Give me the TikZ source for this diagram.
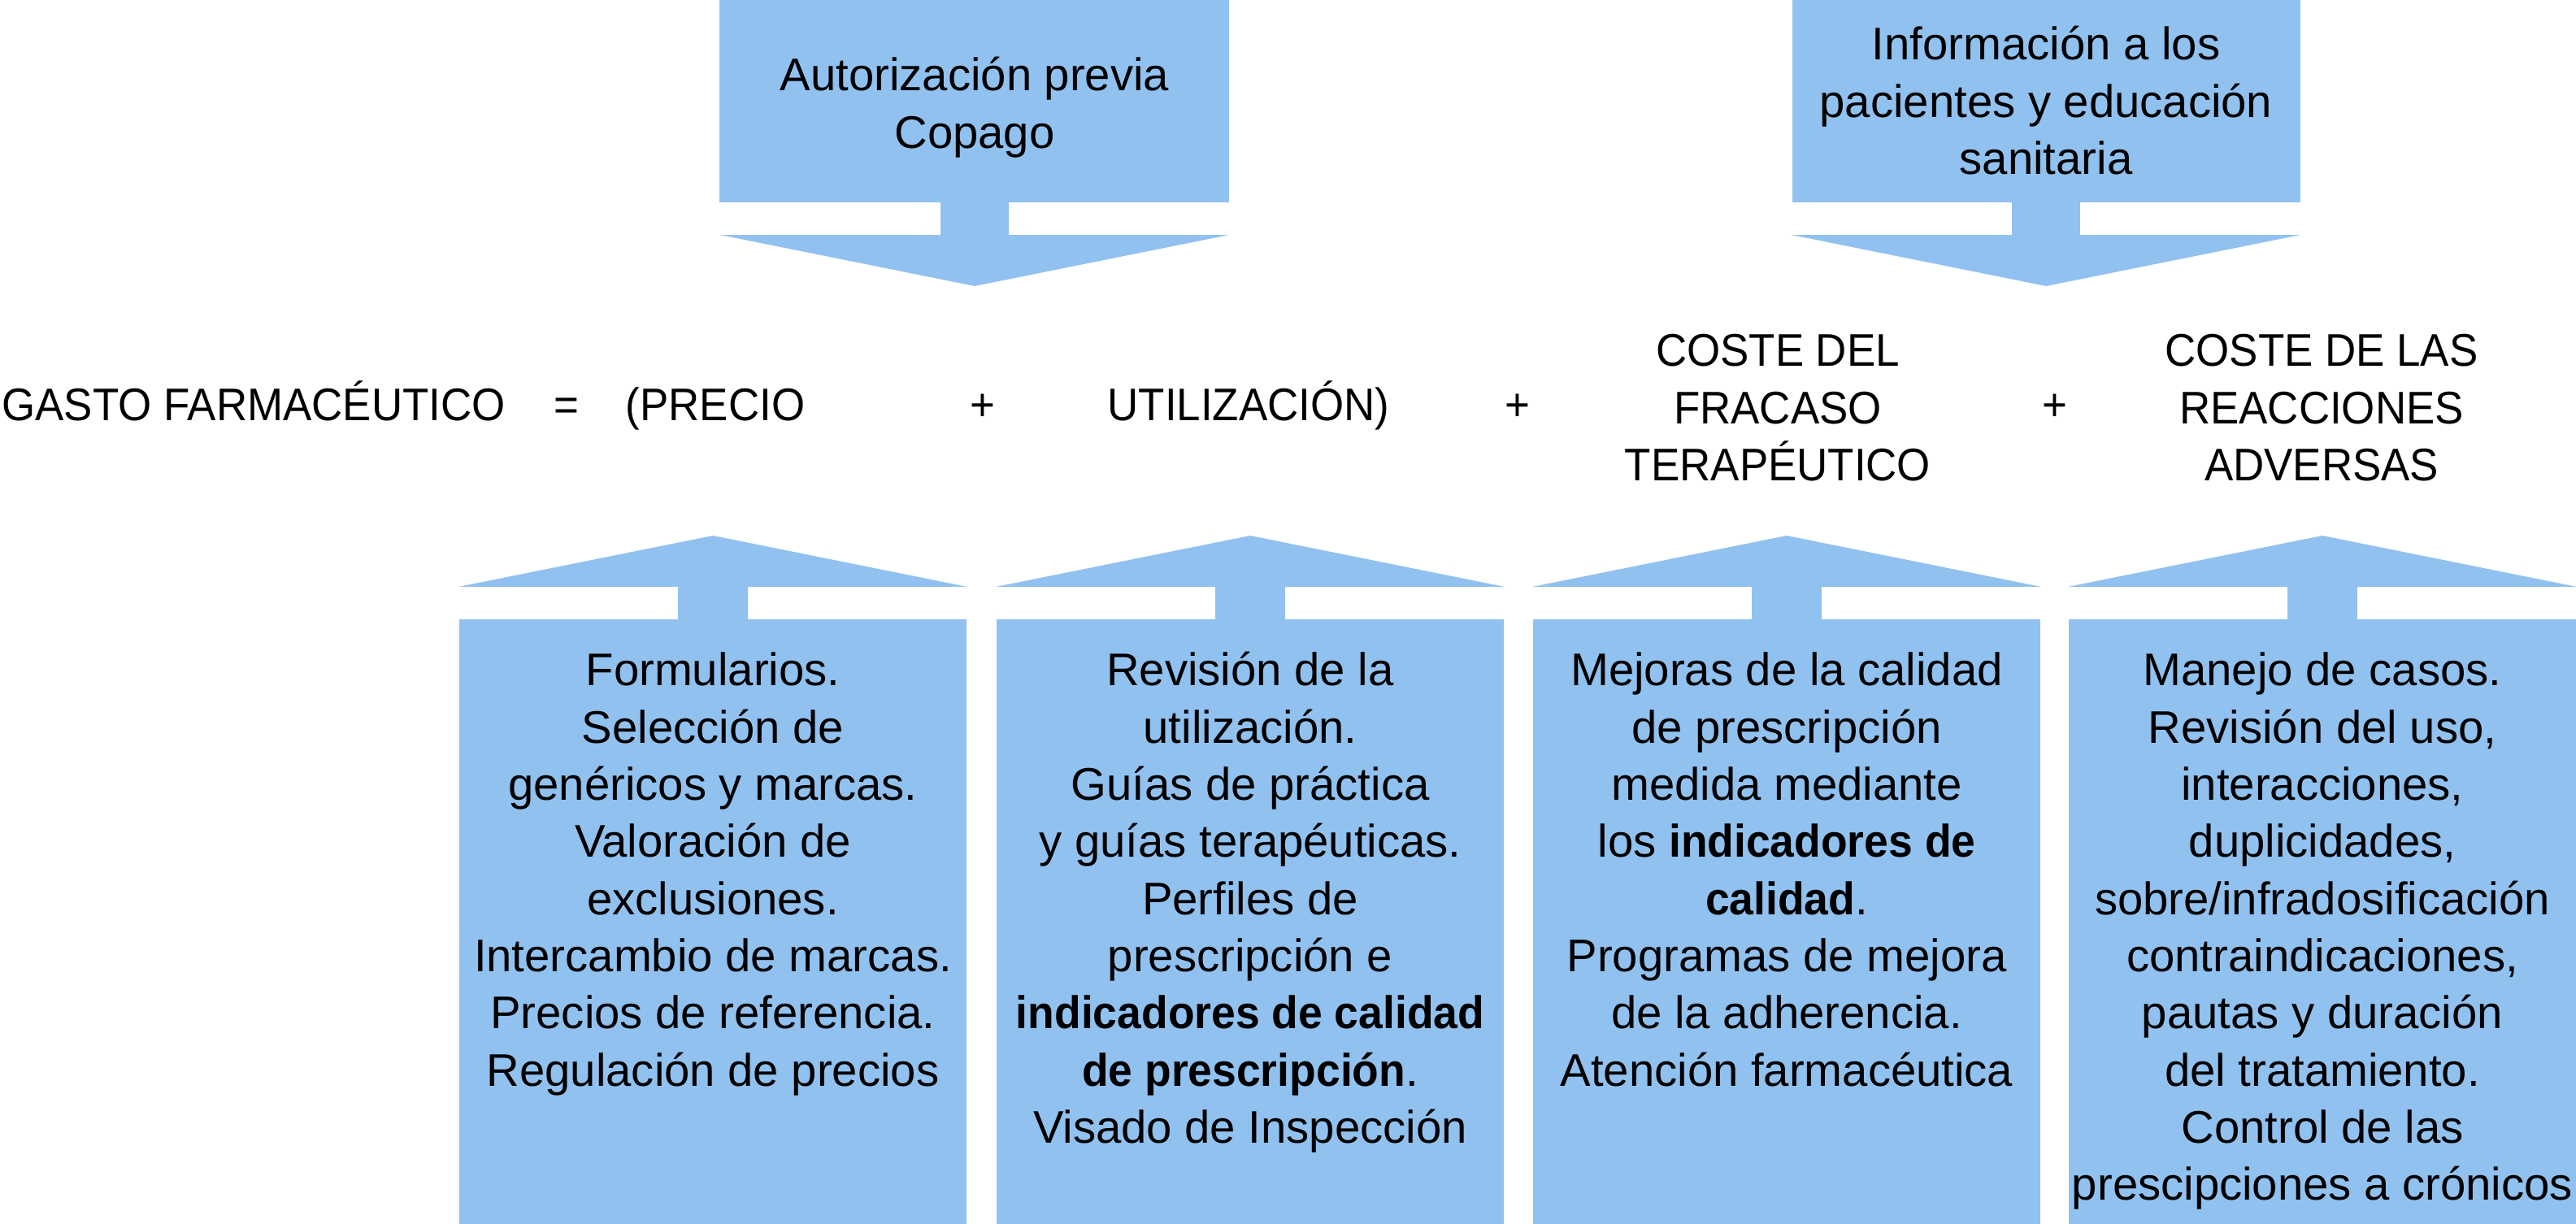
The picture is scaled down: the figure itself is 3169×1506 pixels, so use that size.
\documentclass[tikz,border=0pt]{standalone}
\usepackage{fontspec}
\setmainfont{Liberation Sans}[BoldFeatures={FakeStretch=0.95}]
\newfontfamily\hdrfont[FakeStretch=0.94]{Liberation Sans}
\definecolor{pale}{RGB}{145,193,239}
\begin{document}
\begin{tikzpicture}[x=0.01cm,y=-0.01cm,
  box/.style={fill=pale, draw=none, inner sep=0pt, outer sep=0pt, anchor=north west},
  txt/.style={align=center, inner sep=0pt, font=\fontsize{16}{20}\selectfont, anchor=north},
  hdr/.style={align=center, inner sep=0pt, font=\hdrfont\fontsize{16}{20}\selectfont},
  shp/.style={fill=pale, draw=none}]
\useasboundingbox (0,0) rectangle (3169,1506);
% top boxes
\node[box, minimum width=6.27cm, minimum height=2.49cm] (t1) at (885,0) {};
\node[box, minimum width=6.25cm, minimum height=2.49cm] (t2) at (2205,0) {};
\fill[shp] (1199-42,240) rectangle (1199+42,292);
\fill[shp] (1199-313,289) -- (1199+313,289) -- (1199,352) -- cycle;
\fill[shp] (2517-42,240) rectangle (2517+42,292);
\fill[shp] (2517-313,289) -- (2517+313,289) -- (2517,352) -- cycle;
\node[txt] (t1t) at (1199,62) {\strut Autorización previa\\Copago};
\node[txt] (t2t) at (2517,24) {\strut Información a los\\pacientes y educación\\sanitaria};
% bottom boxes
\foreach \cx/\nm in {877/b1,1538/b2,2198/b3,2857/b4}{
  \node[box, minimum width=6.24cm, minimum height=7.44cm] (\nm) at (\cx-312,762) {};
  \fill[shp] (\cx-313,722) -- (\cx+313,722) -- (\cx,659) -- cycle;
  \fill[shp] (\cx-43,720) rectangle (\cx+43,770);
}
\node[txt] (b1t) at (877,794) {\strut Formularios.\\Selección de\\genéricos y marcas.\\Valoración de\\exclusiones.\\Intercambio de marcas.\\Precios de referencia.\\Regulación de precios};
\node[txt] (b2t) at (1538,794) {\strut Revisión de la\\utilización.\\Guías de práctica\\y guías terapéuticas.\\Perfiles de\\prescripción e\\\textbf{indicadores de calidad}\\\textbf{de prescripción}.\\Visado de Inspección};
\node[txt] (b3t) at (2198,794) {\strut Mejoras de la calidad\\de prescripción\\medida mediante\\los \textbf{indicadores de}\\\textbf{calidad}.\\Programas de mejora\\de la adherencia.\\Atención farmacéutica};
\node[txt] (b4t) at (2857,794) {\strut Manejo de casos.\\Revisión del uso,\\interacciones,\\duplicidades,\\sobre/infradosificación\\contraindicaciones,\\pautas y duración\\del tratamiento.\\Control de las\\prescipciones a crónicos};
% equation row
\node[hdr, anchor=base] (gf) at (312,517) {GASTO FARMACÉUTICO};
\node[hdr, anchor=base] (eq) at (697,517) {=};
\node[hdr, anchor=base] (pr) at (880,517) {(PRECIO};
\node[hdr, anchor=base] (p1) at (1209,517) {+};
\node[hdr, anchor=base] (ut) at (1536,517) {UTILIZACIÓN)};
\node[hdr, anchor=base] (p2) at (1867,517) {+};
\node[hdr, anchor=north] (cf) at (2187,401) {\strut COSTE DEL\\FRACASO\\TERAPÉUTICO};
\node[hdr, anchor=base] (p3) at (2528,517) {+};
\node[hdr, anchor=north] (cr) at (2856,401) {\strut COSTE DE LAS\\REACCIONES\\ADVERSAS};
\end{tikzpicture}
\end{document}
